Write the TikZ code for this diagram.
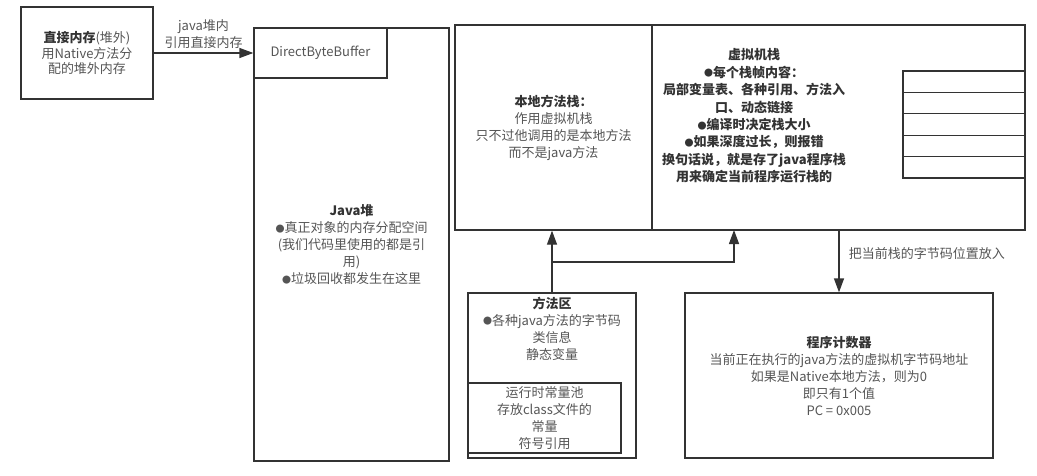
\documentclass[tikz,border=0pt]{standalone}
\usepackage{fontspec}
\setmainfont{Noto Sans CJK SC}
\usepackage{xcolor}
\usepackage{tikz}
\usetikzlibrary{positioning,arrows.meta}

\definecolor{linegray}{HTML}{333333}
\definecolor{txtgray}{HTML}{555555}
\newcommand{\boldhd}[1]{{\bfseries\color{linegray}#1}}
\newcommand{\bul}{\raisebox{0.5pt}{\fontsize{9}{9}\selectfont ●}}

\tikzset{
  box/.style={rectangle, draw=linegray, line width=1.3pt, inner sep=0pt},
  txt/.style={align=center, text=txtgray, font=\fontsize{13}{17}\selectfont},
  arr/.style={-{Triangle[length=14pt,width=10pt]}, draw=linegray, line width=1.3pt},
}

\begin{document}
\begin{tikzpicture}[x=1pt, y=-1pt]
\useasboundingbox (0,0) rectangle (1037,476);

% left side
\node (direct) [box, txt, minimum width=132pt, minimum height=92pt, font=\fontsize{13}{15.5}\selectfont] at (87,53) {\boldhd{直接内存}(堆外)\\用Native方法分\\配的堆外内存};
\node (heap) [box, txt, minimum width=195pt, minimum height=433pt] at (351.5,244.5) {\boldhd{Java堆}\\\bul 真正对象的内存分配空间\\(我们代码里使用的都是引\\用)\\\bul 垃圾回收都发生在这里};
\node (dbb) [box, txt, minimum width=133pt, minimum height=50pt] at (320.5,53) {DirectByteBuffer};

\draw[arr] (direct) -- node[txt, above] {java堆内\\引用直接内存} (dbb);

% stacks
\node (native) [box, txt, minimum width=197pt, minimum height=205pt] at (553.5,127.5) {\boldhd{本地方法栈：}\\作用虚拟机栈\\只不过他调用的是本地方法\\而不是java方法};
\node (vmstack) [box, minimum width=373pt, minimum height=205pt] at (838.5,127.5) {};
\node (vmtext) [txt, text=linegray, font=\fontsize{13}{17.4}\selectfont\bfseries] at (754,116) {虚拟机栈\\\bul 每个栈帧内容：\\局部变量表、各种引用、方法入\\口、动态链接\\\bul 编译时决定栈大小\\\bul 如果深度过长，则报错\\换句话说，就是存了java程序栈\\用来确定当前程序运行栈的};
\foreach \i in {0,...,4}
  \draw[draw=linegray, line width=1.3pt] (903,71+21.4*\i) rectangle ++(122,21.4);

% method area and pc
\node (method) [box, minimum width=168pt, minimum height=165pt] at (552,375.5) {};
\node (methodtext) [txt] at (552,328.5) {\boldhd{方法区}\\\bul 各种java方法的字节码\\类信息\\静态变量};
\node (pool) [box, txt, minimum width=153pt, minimum height=70pt] at (544.5,418) {运行时常量池\\存放class文件的\\常量\\符号引用};
\node (pc) [box, txt, minimum width=308pt, minimum height=165pt] at (839,375.5) {\boldhd{程序计数器}\\当前正在执行的java方法的虚拟机字节码地址\\如果是Native本地方法，则为0\\即只有1个值\\PC = 0x005};

\coordinate (split) at (552,262);
\coordinate (vmin) at (734,230);
\draw[arr] (method.north) -- (method.north |- native.south);
\draw[arr] (split) -| (vmin);
\draw[arr] (pc.north |- vmstack.south) -- node[txt, right, pos=0.37, xshift=6pt] {把当前栈的字节码位置放入} (pc.north);
\end{tikzpicture}
\end{document}
